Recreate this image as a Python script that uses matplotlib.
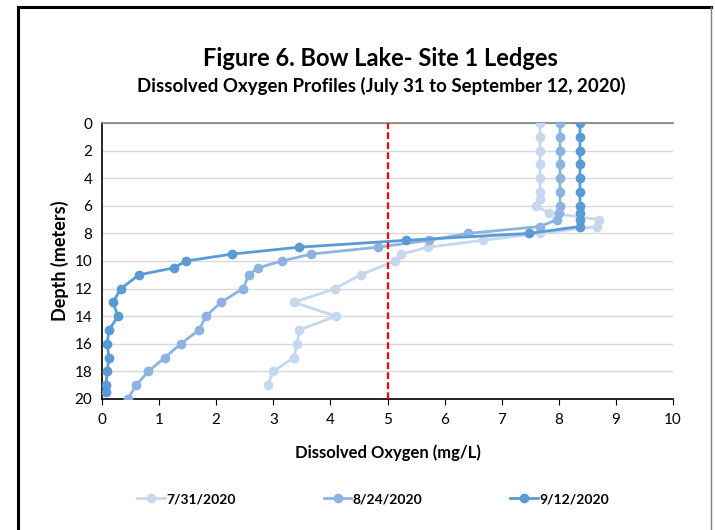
import numpy as np
import matplotlib
matplotlib.use("Agg")
import matplotlib.pyplot as plt
from matplotlib.lines import Line2D

plt.rcParams['font.family'] = ['Lato', 'DejaVu Sans']

# depths (m) and dissolved oxygen (mg/L) per sampling date
depth_0731 = [0, 1, 2, 3, 4, 5, 5.5, 6, 6.5, 7, 7.5, 8, 8.5, 9, 9.5, 10, 11, 12, 13, 14, 15, 16, 17, 18, 19]
do_0731 = [7.67, 7.67, 7.67, 7.67, 7.67, 7.67, 7.67, 7.6, 7.82, 8.71, 8.67, 7.67, 6.67, 5.71, 5.24, 5.13,
           4.53, 4.08, 3.36, 4.1, 3.45, 3.42, 3.36, 3.0, 2.9]

depth_0824 = [0, 1, 2, 3, 4, 5, 6, 6.5, 7, 7.5, 8, 8.5, 9, 9.5, 10, 10.5, 11, 12, 13, 14, 15, 16, 17, 18, 19, 20]
do_0824 = [8.02, 8.02, 8.02, 8.02, 8.02, 8.02, 8.02, 8.0, 7.97, 7.67, 6.41, 5.73, 4.83, 3.66, 3.15, 2.73,
           2.57, 2.47, 2.08, 1.82, 1.7, 1.38, 1.1, 0.81, 0.6, 0.45]

depth_0912 = [0, 1, 2, 3, 4, 5, 6, 6.5, 7, 7.5, 8, 8.5, 9, 9.5, 10, 10.5, 11, 12, 13, 14, 15, 16, 17, 18, 19, 19.5]
do_0912 = [8.37, 8.37, 8.37, 8.37, 8.37, 8.37, 8.37, 8.37, 8.37, 8.37, 7.48, 5.32, 3.45, 2.28, 1.47, 1.26,
           0.65, 0.33, 0.19, 0.28, 0.12, 0.09, 0.12, 0.09, 0.07, 0.07]

labels = ['7/31/2020', '8/24/2020', '9/12/2020']
colors = ['#C5D8EE', '#8DB3E0', '#5B9BD5']
threshold = 5

fig = plt.figure(figsize=(7.15, 5.3), dpi=100)
ax = fig.add_axes([0.1427, 0.2472, 0.7986, 0.5207])

series = [(do_0731, depth_0731), (do_0824, depth_0824), (do_0912, depth_0912)]
for (x, y), c, lab in zip(series, colors, labels):
    ax.plot(x, y, color=c, lw=2, marker='o', ms=6, label=lab, zorder=3)

ax.axvline(threshold, color='#FF0000', lw=1.6, ls=(0, (3, 1.5)), zorder=4)

ax.set_xlim(0, 10)
ax.set_ylim(20, 0)
ax.set_xticks(range(0, 11))
ax.set_yticks(range(0, 21, 2))
ax.tick_params(axis='x', direction='out', length=4, labelsize=11, pad=6)
ax.tick_params(axis='y', length=0, labelsize=11, pad=7)
ax.grid(axis='y', color='#D9D9D9', lw=1)
ax.set_axisbelow(True)
ax.spines['right'].set_visible(False)
ax.spines['top'].set_color('#808080')
ax.spines['top'].set_linewidth(1.2)
ax.spines['left'].set_linewidth(1.2)
ax.spines['bottom'].set_linewidth(1.2)

ax.set_xlabel('Dissolved Oxygen (mg/L)', fontsize=12, fontweight='bold', labelpad=13)
ax.set_ylabel('Depth (meters)', fontsize=13, fontweight='bold', labelpad=4)

fig.text(0.532, 0.89, 'Figure 6. Bow Lake- Site 1 Ledges', ha='center', va='center',
         fontsize=17, fontweight='bold')
fig.text(0.533, 0.838, 'Dissolved Oxygen Profiles (July 31 to September 12, 2020)', ha='center',
         va='center', fontsize=13.4, fontweight='bold')

handles = [Line2D([], [], color=c, lw=2, marker='o', ms=6) for c in colors]
leg = fig.legend(handles, labels, loc='center', bbox_to_anchor=(0.522, 0.058), ncol=3, frameon=False,
                 columnspacing=6.3, handlelength=2.0, handletextpad=0.1, prop={'weight': 'bold', 'size': 10})

# chart frame
fig.add_artist(Line2D([0.025, 0.025], [0, 0.987], color='black', lw=2.2, transform=fig.transFigure))
fig.add_artist(Line2D([0.025, 0.995], [0.987, 0.987], color='black', lw=2.2, transform=fig.transFigure))
fig.add_artist(Line2D([0.995, 0.995], [0, 0.987], color='#808080', lw=1, transform=fig.transFigure))

fig.savefig('out.png', dpi=100)
